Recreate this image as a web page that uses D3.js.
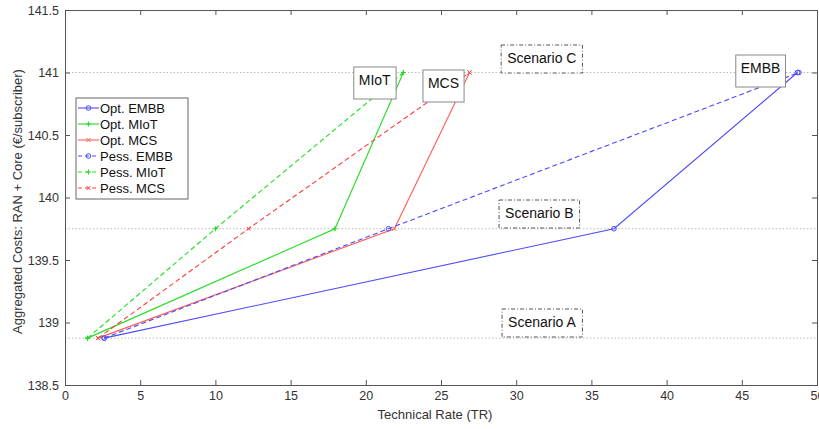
<!DOCTYPE html>
<html><head><meta charset="utf-8">
<script src="https://cdn.jsdelivr.net/npm/d3@7"></script>
<style>body{margin:0;background:#fff}svg{display:block;font-family:"Liberation Sans",Arial,sans-serif}</style>
</head><body><svg id="c" width="819" height="429"></svg>
<script>
const seriesNames = ["Opt. EMBB","Opt. MIoT","Opt. MCS","Pess. EMBB","Pess. MIoT","Pess. MCS"];
const optEMBB_x = [2.6, 36.5, 48.7];
const optEMBB_y = [138.875, 139.75, 141.0];
const optMIoT_x = [1.5, 17.95, 22.5];
const optMIoT_y = [138.875, 139.75, 141.0];
const optMCS_x = [2.2, 21.9, 26.9];
const optMCS_y = [138.875, 139.75, 141.0];
const pessEMBB_x = [2.6, 21.5, 48.8];
const pessEMBB_y = [138.875, 139.75, 141.0];
const pessMIoT_x = [1.5, 10.0, 22.5];
const pessMIoT_y = [138.875, 139.75, 141.0];
const pessMCS_x = [2.2, 12.2, 26.9];
const pessMCS_y = [138.875, 139.75, 141.0];
const scenarioLevels = [138.875, 139.75, 141.0];
const scenarioNames = ["Scenario A","Scenario B","Scenario C"];
const xTicks = [0,5,10,15,20,25,30,35,40,45,50];
const yTicks = [138.5,139,139.5,140,140.5,141,141.5];
const serviceLabels = ["MIoT","MCS","EMBB"];
// annotation box anchors (left, top) in data units
const serviceLabelPos = [[19.2,141.044],[23.8,141.02],[44.6,141.14]];
const scenarioLabelPos = [[29.06,139.108],[28.86,139.98],[29.0,141.22]];

const svg = d3.select("#c");
const L=65, R=817, T=10, B=385;
const x = d3.scaleLinear().domain([0,50]).range([L,R]);
const y = d3.scaleLinear().domain([138.5,141.5]).range([B,T]);
const axisCol = "#555", textCol = "#333";

scenarioLevels.forEach(v=>{
  svg.append("line").attr("x1",L).attr("x2",R).attr("y1",y(v)).attr("y2",y(v))
    .attr("stroke","#bbb").attr("stroke-width",1).attr("stroke-dasharray","1.5,2");
});

const series = [
  {name:seriesNames[0], xs:optEMBB_x, ys:optEMBB_y, col:"#4a4aff", dash:null, m:"o"},
  {name:seriesNames[1], xs:optMIoT_x, ys:optMIoT_y, col:"#22dd22", dash:null, m:"+"},
  {name:seriesNames[2], xs:optMCS_x, ys:optMCS_y, col:"#ff5c5c", dash:null, m:"x"},
  {name:seriesNames[3], xs:pessEMBB_x, ys:pessEMBB_y, col:"#4a4aff", dash:"5,3", m:"o"},
  {name:seriesNames[4], xs:pessMIoT_x, ys:pessMIoT_y, col:"#22dd22", dash:"5,3", m:"+"},
  {name:seriesNames[5], xs:pessMCS_x, ys:pessMCS_y, col:"#ff3b3b", dash:"5,3", m:"x"}
];
function marker(g, m, cx, cy, col){
  if(m==="o") g.append("circle").attr("cx",cx).attr("cy",cy).attr("r",2.3).attr("fill","none").attr("stroke",col).attr("stroke-width",1);
  else if(m==="+"){ g.append("path").attr("d",`M${cx-2.5},${cy}H${cx+2.5}M${cx},${cy-2.5}V${cy+2.5}`).attr("stroke",col).attr("stroke-width",1.2); }
  else { g.append("path").attr("d",`M${cx-2},${cy-2}L${cx+2},${cy+2}M${cx-2},${cy+2}L${cx+2},${cy-2}`).attr("stroke",col).attr("stroke-width",1); }
}
const line = d3.line().x(d=>x(d[0])).y(d=>y(d[1]));
series.forEach(s=>{
  const pts = s.xs.map((v,i)=>[v,s.ys[i]]);
  svg.append("path").attr("d",line(pts)).attr("fill","none").attr("stroke",s.col)
    .attr("stroke-width",1.1).attr("stroke-dasharray",s.dash);
  const g = svg.append("g");
  pts.forEach(p=>marker(g,s.m,x(p[0]),y(p[1]),s.col));
});

const gx = svg.append("g").attr("transform",`translate(0,${B})`)
  .call(d3.axisBottom(x).tickValues(xTicks).tickSize(-5).tickPadding(6).tickFormat(d3.format("d")));
const gxt = svg.append("g").attr("transform",`translate(0,${T})`)
  .call(d3.axisTop(x).tickValues(xTicks).tickSize(-5).tickFormat(""));
const gy = svg.append("g").attr("transform",`translate(${L},0)`)
  .call(d3.axisLeft(y).tickValues(yTicks).tickSize(-5).tickPadding(6).tickFormat(d=>String(d)));
const gyr = svg.append("g").attr("transform",`translate(${R},0)`)
  .call(d3.axisRight(y).tickValues(yTicks).tickSize(-5).tickFormat(""));
[gx,gxt,gy,gyr].forEach(g=>{
  g.selectAll("path.domain").attr("stroke",axisCol);
  g.selectAll(".tick line").attr("stroke",axisCol);
  g.selectAll("text").attr("fill",textCol).style("font-size","12.5px").style("font-family","Liberation Sans, Arial, sans-serif");
});

svg.append("text").attr("x",(L+R)/2 - 6).attr("y",419).attr("text-anchor","middle")
  .attr("fill",textCol).style("font-size","13px").text("Technical Rate (TR)");
svg.append("text").attr("transform",`translate(22,${(T+B)/2 + 4}) rotate(-90)`).attr("text-anchor","middle")
  .attr("fill",textCol).style("font-size","13px").text("Aggregated Costs: RAN + Core (€/subscriber)");

function textBox(str, pos, dashed, fs, h){
  const bx = x(pos[0]), by = y(pos[1]);
  const g = svg.append("g");
  const t = g.append("text").attr("x",bx+ (dashed?6:5)).attr("y",by+13).attr("dy","0.35em")
    .attr("fill","#111").style("font-size",fs+"px").text(str);
  const bb = t.node().getBBox();
  g.insert("rect","text").attr("x",bx).attr("y",by).attr("width",bb.width+(dashed?12:10))
    .attr("height",h).attr("fill","#fff").attr("stroke",dashed?"#555":"#888")
    .attr("stroke-width",1).attr("stroke-dasharray",dashed?"4,2,1,2":null);
}
serviceLabels.forEach((s,i)=>textBox(s, serviceLabelPos[i], false, 14, 32));
scenarioNames.forEach((s,i)=>textBox(s, scenarioLabelPos[i], true, 14, 28));

const lg = svg.append("g").attr("transform","translate(76,98)");
lg.append("rect").attr("width",112).attr("height",101).attr("fill","#fff").attr("stroke","#666").attr("stroke-width",1);
series.forEach((s,i)=>{
  const yy = 10 + i*16;
  lg.append("line").attr("x1",2).attr("x2",23).attr("y1",yy).attr("y2",yy).attr("stroke",s.col)
    .attr("stroke-width",1.1).attr("stroke-dasharray",s.dash?"4,3":null);
  marker(lg, s.m, 12.5, yy, s.col);
  lg.append("text").attr("x",24).attr("y",yy).attr("dy","0.35em").attr("fill","#111").style("font-size","13px").text(s.name);
});
</script></body></html>
